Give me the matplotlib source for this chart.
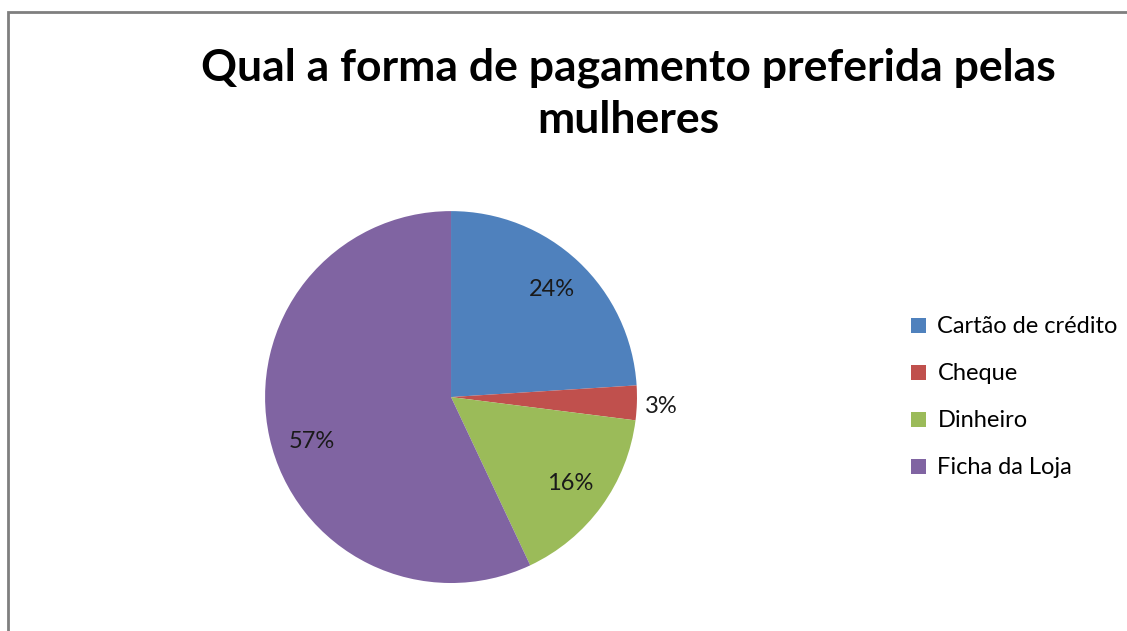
import matplotlib.pyplot as plt
from matplotlib.patches import Rectangle

categorias = ['Cartão de crédito', 'Cheque', 'Dinheiro', 'Ficha da Loja']
valores = [24, 3, 16, 57]
cores = ['#4F81BD', '#C0504D', '#9BBB59', '#8064A2']

plt.rcParams['font.family'] = ['Lato', 'DejaVu Sans']

fig = plt.figure(figsize=(11.27, 6.31), dpi=100)

# moldura do gráfico (só topo e esquerda aparecem)
fig.patches.append(Rectangle((8 / 1127, -0.1), 1.2, 1 - 12 / 631 + 0.1,
                             transform=fig.transFigure, fill=False,
                             edgecolor='#7f7f7f', linewidth=2))

ax = fig.add_axes([0.2352, 0.0760, 0.330, 0.5895])
wedges, textos, autotextos = ax.pie(valores, colors=cores, startangle=90,
                                    counterclock=False, autopct='%1.0f%%',
                                    pctdistance=0.79,
                                    textprops={'fontsize': 17, 'color': '#1a1a1a'})
# rótulo da fatia pequena fica fora
autotextos[1].set_position((1.13, -0.05))
autotextos[3].set_position((-0.75, -0.24))
ax.set_xlim(-1, 1)
ax.set_ylim(-1, 1)
ax.set_aspect('equal')

fig.text(628 / 1127, 1 - 94 / 631, 'Qual a forma de pagamento preferida pelas\nmulheres',
         ha='center', va='center', fontsize=32, fontweight='bold',
         linespacing=1.37)

leg = fig.legend(wedges, categorias, loc='upper left',
                 bbox_to_anchor=(902 / 1127, 1 - 307 / 631),
                 frameon=False, fontsize=17, handlelength=0.6, handleheight=0.6,
                 handletextpad=0.5, labelspacing=1.1, borderaxespad=0)

fig.savefig('out.png', dpi=100)
